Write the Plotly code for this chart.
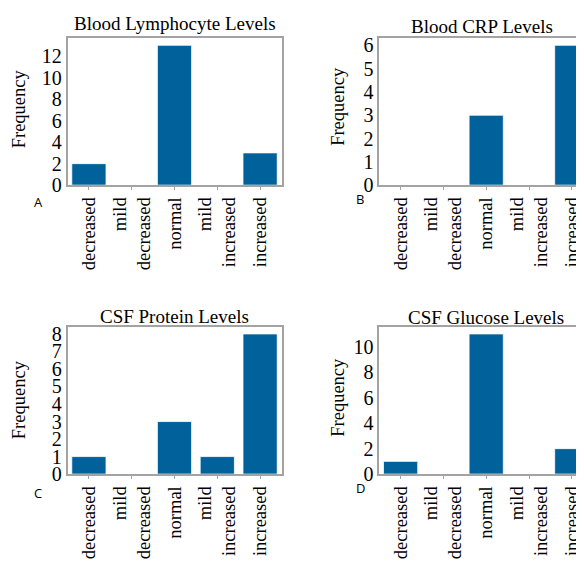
import plotly.graph_objects as go

categories = ["decreased", "mild decreased", "normal", "mild increased", "increased"]
tick_labels = ["decreased", "mild<br>decreased", "normal", "mild<br>increased", "increased"]

lymphocyte = [2, 0, 13, 0, 3]
crp = [0, 0, 3, 0, 6]
csf_protein = [1, 0, 3, 1, 8]
csf_glucose = [1, 0, 11, 0, 2]

titles = ["Blood Lymphocyte Levels", "Blood CRP Levels", "CSF Protein Levels", "CSF Glucose Levels"]
panel_letters = ["A", "B", "C", "D"]
series = [lymphocyte, crp, csf_protein, csf_glucose]
y_dticks = [2, 1, 1, 2]

# page body has an 8px margin; the figure fills the rest of the 584x561 window
OFF = 8
W, H = 584 - OFF, 561 - OFF
BAR = "#00619b"
FRAME = "#a3a3a3"
SERIF = "Liberation Serif, Times New Roman, serif"

# panel boxes in window pixels: (left, right, top, bottom)
boxes = [
    (67.5, 281.5, 35, 186),
    (379.2, 593.2, 35, 186),
    (67.5, 281.5, 331.7, 483),
    (379.2, 593.2, 331.7, 483),
]
title_pos = [(174.5, 20), (482, 23), (174.5, 320.5), (486, 322)]
ytitle_pos = [(19, 108), (338.5, 105), (19, 407), (338.5, 404)]
letter_pos = [(38, 203), (360, 200), (38, 502), (360, 497)]


def px(x):
    return (x - OFF) / W


def py(y):
    return 1 - (y - OFF) / H


fig = go.Figure()
annotations = []

for i, vals in enumerate(series):
    n = "" if i == 0 else str(i + 1)
    left, right, top, bottom = boxes[i]
    ppu = (right - left) / 5.0
    right_vis = min(right, OFF + W)
    xmax = -0.5 + (right_vis - left) / ppu
    dom_x = [px(left), px(right_vis)]
    dom_y = [py(bottom), py(top)]
    fig.add_trace(go.Bar(
        x=categories, y=vals, xaxis="x" + n, yaxis="y" + n,
        marker=dict(color=BAR, line=dict(color="white", width=0.8)),
        showlegend=False,
    ))
    clipped = right > OFF + W
    fig.update_layout(**{
        "xaxis" + n: dict(
            domain=dom_x, anchor="y" + n, type="category",
            categoryorder="array", categoryarray=categories,
            tickmode="array", tickvals=categories, ticktext=tick_labels,
            tickangle=-90, range=[-0.5, xmax],
            showline=True, linecolor=FRAME, linewidth=1.5, mirror=True,
            ticks="outside", ticklen=3, tickcolor=FRAME, tickwidth=1,
            showgrid=False, zeroline=False,
            tickfont=dict(family=SERIF, size=18.5, color="black"),
        ),
        "yaxis" + n: dict(
            domain=dom_y, anchor="x" + n,
            range=[0, max(vals) * 1.05], dtick=y_dticks[i], tick0=0,
            showline=True, linecolor=FRAME, linewidth=1.5, mirror=not clipped,
            ticks="", showgrid=False, zeroline=False,
            tickfont=dict(family=SERIF, size=20, color="black"),
        ),
    })
    tx, ty = title_pos[i]
    annotations.append(dict(text=titles[i], x=px(tx), y=py(ty), xref="paper", yref="paper",
                            xanchor="center", yanchor="middle", showarrow=False,
                            font=dict(family=SERIF, size=19, color="black")))
    yx, yy = ytitle_pos[i]
    annotations.append(dict(text="Frequency", x=px(yx), y=py(yy), xref="paper", yref="paper",
                            xanchor="center", yanchor="middle", showarrow=False, textangle=-90,
                            font=dict(family=SERIF, size=18.5, color="black")))
    lx, ly = letter_pos[i]
    annotations.append(dict(text=panel_letters[i], x=px(lx), y=py(ly), xref="paper", yref="paper",
                            xanchor="center", yanchor="middle", showarrow=False,
                            font=dict(family="Open Sans, sans-serif", size=13, color="black")))

fig.update_layout(
    width=W, height=H,
    margin=dict(l=0, r=0, t=0, b=0),
    paper_bgcolor="white", plot_bgcolor="white",
    bargap=0.2,
    annotations=annotations,
)

fig.write_html("out.html")
